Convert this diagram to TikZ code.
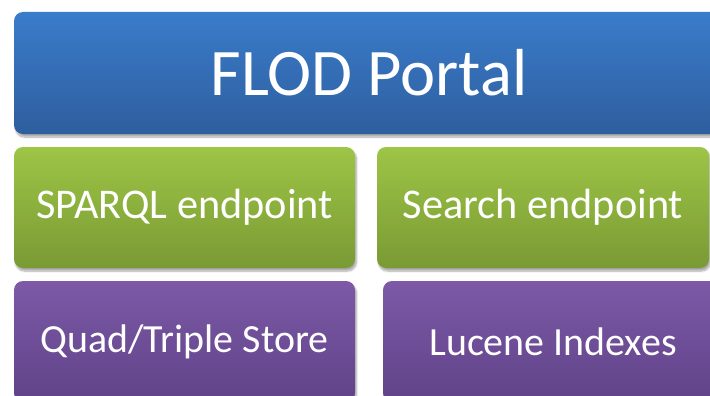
\documentclass[tikz,border=0pt]{standalone}
\usepackage{fontspec}
\setmainfont{Carlito}
\usetikzlibrary{positioning, shadows.blur}
\definecolor{flodbluetop}{HTML}{3A7CCB}
\definecolor{flodbluebot}{HTML}{2E5E9E}
\definecolor{flodgreentop}{HTML}{9DC546}
\definecolor{flodgreenbot}{HTML}{7A9A34}
\definecolor{flodpurpletop}{HTML}{7D59A7}
\definecolor{flodpurplebot}{HTML}{5F4388}

\begin{document}
\begin{tikzpicture}[
  x=1pt, y=-1pt,
  layer/.style={
    rounded corners=9pt, draw=none, text=white, align=center,
    inner sep=0pt, outer sep=0pt, minimum height=121pt,
    font=\fontsize{42.3}{46}\selectfont,
    blur shadow={shadow xshift=1.5pt, shadow yshift=-3pt,
                 shadow blur steps=8, shadow opacity=35}
  },
  portal/.style={layer, top color=flodbluetop, bottom color=flodbluebot,
    minimum height=122pt, font=\fontsize{66.5}{72}\selectfont},
  endpoint/.style={layer, top color=flodgreentop, bottom color=flodgreenbot},
  store/.style={layer, top color=flodpurpletop, bottom color=flodpurplebot,
    font=\fontsize{39.9}{44}\selectfont},
]
\useasboundingbox (0,0) rectangle (710,396);
\clip (0,0) rectangle (710,396);

% Top layer
\node[portal, minimum width=710pt, anchor=north west] (portal) at (14,12) {FLOD Portal};

% Endpoints
\node[endpoint, minimum width=341pt, below right=13pt and 0pt of portal.south west] (sparql) {SPARQL endpoint};
\node[endpoint, minimum width=332pt, right=22pt of sparql] (search) {Search endpoint};

% Storage
\node[store, minimum width=341pt, below right=13pt and 0pt of sparql.south west] (quad) {Quad/Triple Store};
\node[store, minimum width=340pt, right=28pt of quad] (lucene) {Lucene Indexes};
\end{tikzpicture}
\end{document}
